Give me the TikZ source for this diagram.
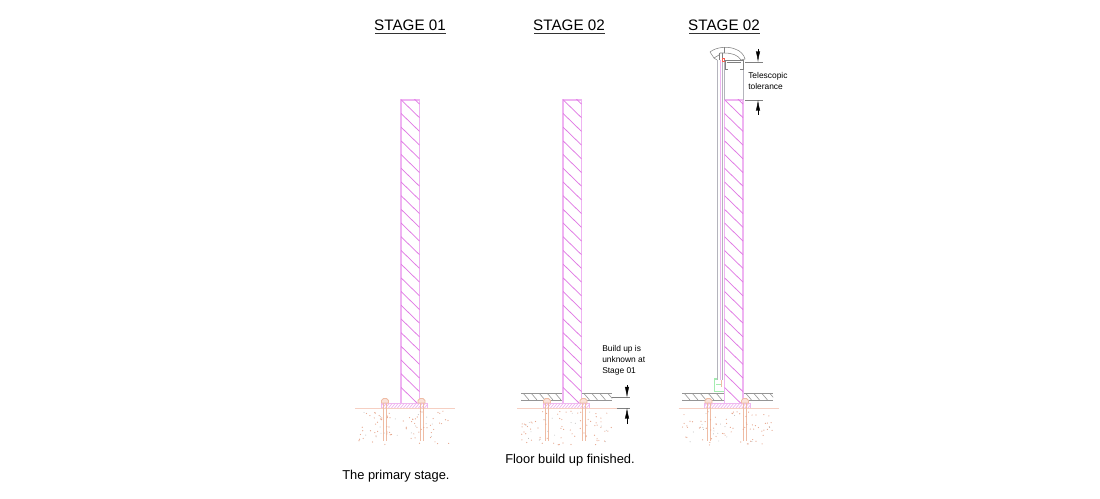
\documentclass[tikz,border=0pt]{standalone}
\usepackage{fontspec}
\setmainfont{Liberation Sans}
\usetikzlibrary{arrows.meta}
\definecolor{wallc}{HTML}{EFB4F2}
\definecolor{hatchc}{HTML}{E078E4}
\definecolor{platec}{HTML}{EFB8F0}
\definecolor{rustc}{HTML}{EFBCA4}
\definecolor{pinkl}{HTML}{F6CFC2}
\definecolor{dotc}{HTML}{E6A48A}
\definecolor{greyc}{HTML}{B4B4BC}
\definecolor{hatchg}{HTML}{959595}
\definecolor{greenc}{HTML}{A4ECB0}
\tikzset{
  wallline/.style={wallc,line width=1.1pt},
  hatchline/.style={hatchc,line width=0.55pt},
  plateline/.style={platec,line width=0.55pt},
  groundline/.style={pinkl,line width=0.7pt},
  boltline/.style={rustc,line width=0.55pt},
  floorline/.style={hatchg,line width=0.45pt},
  glassline/.style={greyc,line width=0.6pt},
  capline/.style={black!50,line width=0.4pt},
  dimline/.style={black!50,line width=0.3pt},
  dimarrow/.style={black,line width=0.3pt,-{Latex[length=8pt,width=3.2pt]}},
  titletext/.style={font=\fontsize{11.4}{14}\selectfont,inner sep=0pt},
  captext/.style={font=\fontsize{9.65}{11}\selectfont,inner sep=0pt,anchor=west},
  smalltext/.style={font=\fontsize{6.3}{8.2}\selectfont,inner sep=0pt,anchor=north west,align=left}
}
\newcommand{\footing}[2]{%
  \begin{scope}[shift={(#1,0)}]
    \draw[wallline] (0,403) -- (0,100) -- (18.5,100) -- (18.5,403);
    \begin{scope}
      \clip (0,100) rectangle (18.5,403);
      \foreach \k in {0,...,22} {
        \draw[hatchline] (0,{86+\k*13.7}) -- (18.5,{104+\k*13.7});
      }
    \end{scope}
    \draw[plateline] (-20,403) rectangle (26,408);
    \begin{scope}
      \clip (-20,403) rectangle (26,408);
      \foreach \k in {0,...,17} {\draw[plateline] ({-22+\k*3},408.5) -- ({-17+\k*3},402.5);}
    \end{scope}
    \draw[groundline] (-46,408) -- (54,408);
    \foreach \b in {-16,20.5} {
      \draw[boltline] ({\b-1.6},403) -- ({\b-1.6},441);
      \draw[boltline] ({\b+1.6},403) -- ({\b+1.6},441);
      \draw[boltline,fill=pinkl!60] ({\b-3.5},403) -- ({\b-3.5},400.5) -- ({\b-1.5},398.5) -- ({\b+1.5},398.5) -- ({\b+3.5},400.5) -- ({\b+3.5},403) -- cycle;
    }
    \pgfmathsetseed{#2}
    \foreach \k in {1,...,70} {
      \pgfmathsetmacro{\px}{-42+rnd*92}
      \pgfmathsetmacro{\py}{411+rnd*34}
      \fill[dotc] (\px,\py) circle (0.6);
    }
    \foreach \k in {1,...,16} {
      \pgfmathsetmacro{\px}{-38+rnd*86}
      \pgfmathsetmacro{\py}{412+rnd*30}
      \fill[black!30] (\px,\py) circle (0.45);
    }
  \end{scope}
}
\begin{document}
\begin{tikzpicture}[x=0.75pt,y=-0.75pt]
\useasboundingbox (0,0) rectangle (1100,499);
\fill[white] (0,0) rectangle (1100,499);

\node[titletext] (t1) at (410,25) {STAGE 01};
\node[titletext] (t2) at (569,25) {STAGE 02};
\node[titletext] (t3) at (724,25) {STAGE 02};
\draw[black!80,line width=0.5pt] (375,33) -- (446,33);
\draw[black!80,line width=0.5pt] (534,33) -- (605,33);
\draw[black!80,line width=0.5pt] (689,33) -- (760,33);

\foreach \a/\b in {521/562.5,581.5/612,682/723.5,743.5/773} {
  \begin{scope}
    \clip (\a,393) rectangle (\b,400);
    \foreach \k in {0,...,7} {\draw[floorline] ({\a-6+\k*8},393) -- ({\a+\k*8},400);}
  \end{scope}
  \draw[floorline] (\a,393) -- (\b,393) (\a,400) -- (\b,400);
}

\footing{401}{11}
\footing{563}{23}
\footing{724.5}{37}

\draw[dimline] (612,397.5) -- (630,397.5);
\draw[dimline] (617,408) -- (630,408);
\coordinate (d1a) at (627,385);
\coordinate (d1b) at (627,397.5);
\coordinate (d1c) at (627,424);
\coordinate (d1d) at (627,408);
\draw[dimarrow] (d1a) -- (d1b);
\draw[dimarrow] (d1c) -- (d1d);
\node[smalltext] (n1) at (602,345.5) {Build up is\\unknown at\\Stage 01};

\draw[glassline] (717.5,60) -- (717.5,380);
\draw[wallc,line width=0.6pt] (720,60) -- (720,380);
\draw[glassline] (722,60) -- (722,380);
\draw[glassline] (724.5,60) -- (724.5,100);
\draw[glassline] (743,60) -- (743,100);
\draw[greenc,line width=0.8pt] (717,379) -- (714.5,379) -- (714.5,391.5) -- (724,391.5);
\draw[greenc,line width=0.5pt] (716,384) -- (722,384);
\draw[rustc,line width=0.7pt] (721.5,380) -- (721.5,387);
\draw[capline] (710,52) .. controls (716,47) and (728,46) .. (735,49) .. controls (741,51) and (744,55) .. (745,59) -- (741,60) .. controls (738,55) and (732,53) .. (724,53) -- (720,53);
\draw[capline] (710,52) -- (714,58) -- (719,55) -- (720,53);
\draw[capline] (714,58) -- (717,60);
\draw[capline] (724,47) -- (724,53);
\draw[capline] (719,53) -- (719,60) (722,53) -- (722,60);
\draw[red!50!rustc,line width=0.5pt] (722,58) rectangle (724.5,61);
\draw[capline] (724,60.5) -- (744,60.5);
\draw[capline] (725,60.5) -- (725,69) -- (728,69);
\draw[capline] (743,60.5) -- (743,69) -- (740,69);
\draw[capline] (727,62.5) -- (741,62.5);

\draw[dimline] (745,62) -- (763,62);
\draw[dimline] (745,100) -- (763,100);
\coordinate (d2a) at (758,49);
\coordinate (d2b) at (758,62);
\coordinate (d2c) at (758,115);
\coordinate (d2d) at (758,100);
\draw[dimarrow] (d2a) -- (d2b);
\draw[dimarrow] (d2c) -- (d2d);
\node[smalltext] (n2) at (748,72.5) {Telescopic\\tolerance};

\node[captext] (c1) at (342,476) {The primary stage.};
\node[captext] (c2) at (505,460) {Floor build up finished.};
\end{tikzpicture}
\end{document}
